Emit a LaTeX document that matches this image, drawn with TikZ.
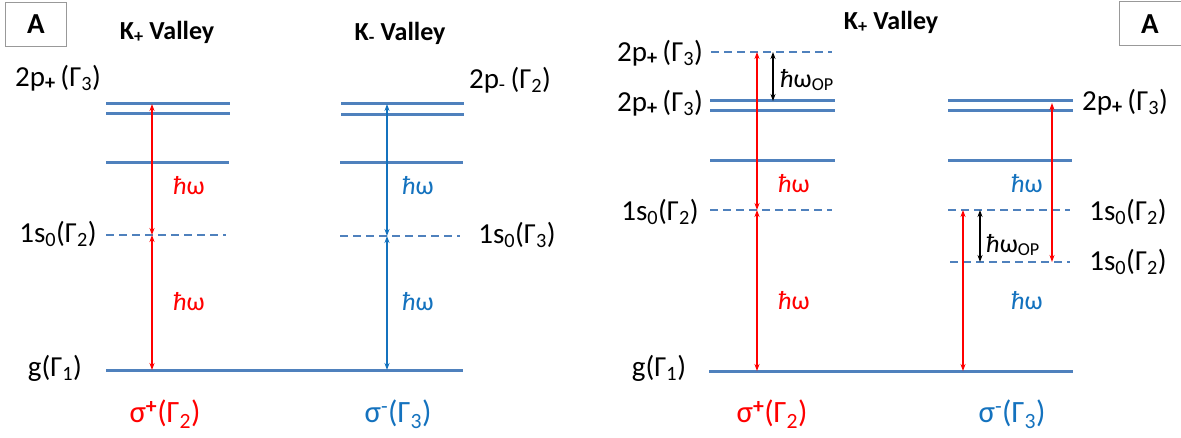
\documentclass[tikz,border=0pt]{standalone}
\usepackage{fontspec}
\setmainfont{Carlito}
\usetikzlibrary{arrows.meta}
\definecolor{lvl}{RGB}{79,129,189}
\definecolor{sred}{RGB}{255,0,0}
\definecolor{sblue}{RGB}{20,114,190}
\newcommand{\hbw}{\textit{ħ}ω}
\begin{document}
\begin{tikzpicture}[x=1pt,y=-1pt,
 level/.style={draw=lvl,line width=3pt},
 dlevel/.style={draw=lvl,line width=2.9pt,dash pattern=on 8pt off 5pt},
 trans/.style={line width=1.4pt,{Stealth[length=7pt,width=5pt]}-{Stealth[length=7pt,width=5pt]}},
 lab/.style={font=\fontsize{29}{32}\selectfont,inner sep=0pt},
 sig/.style={font=\fontsize{31}{34}\selectfont,inner sep=0pt},
 ttl/.style={font=\fontsize{26}{28}\selectfont\bfseries,inner sep=0pt},
 hw/.style={font=\fontsize{26}{28}\selectfont,inner sep=0pt},
 boxA/.style={draw=gray!80,line width=0.8pt,minimum width=61pt,minimum height=44pt,font=\fontsize{29}{30}\selectfont\bfseries,inner sep=0pt}
]
\useasboundingbox (0,0) rectangle (1181,438);

% ---------- left panel ----------
\node[boxA] (boxL) at (36,24) {A};
\node[ttl] (tKp) at (167,32) {K\textsubscript{+} Valley};
\node[ttl] (tKm) at (400,33) {K\textsubscript{-} Valley};

\node[lab] (l2p) at (58,78) {2p\textsubscript{\textbf{+}}\,(Γ\textsubscript{3})};
\node[lab] (r2p) at (510,80) {2p\textsubscript{-}\,(Γ\textsubscript{2})};
\node[lab] (l1s) at (58,234) {1s\textsubscript{0}(Γ\textsubscript{2})};
\node[lab] (r1s) at (517,235) {1s\textsubscript{0}(Γ\textsubscript{3})};
\node[lab] (lg) at (55,368) {g(Γ\textsubscript{1})};
\node[sig,text=sred] (lsp) at (165,414) {σ\textsuperscript{\textbf{+}}(Γ\textsubscript{2})};
\node[sig,text=sblue] (lsm) at (398,414) {σ\textsuperscript{-}(Γ\textsubscript{3})};

\draw[level] (106,104) -- (230,104);
\draw[level] (106,114) -- (230,114);
\draw[level] (106,163) -- (229,163);
\draw[dlevel] (106,235) -- (226,235);
\draw[level] (106,370) -- (463,370);
\draw[level] (341,104) -- (464,104);
\draw[level] (341,115) -- (464,115);
\draw[level] (340,163) -- (463,163);
\draw[dlevel] (340,236) -- (460,236);

\coordinate (a1) at (152,370);
\coordinate (a2) at (152,235);
\coordinate (a3) at (152,104);
\coordinate (b1) at (387,370);
\coordinate (b2) at (387,236);
\coordinate (b3) at (387,104);
\draw[trans,sred] (a1) -- (a2);
\draw[trans,sred] (a2) -- (a3);
\draw[trans,sblue] (b1) -- (b2);
\draw[trans,sblue] (b2) -- (b3);

\node[hw,text=sred] (hwa1) at (189,186) {\hbw};
\node[hw,text=sred] (hwa2) at (189,302) {\hbw};
\node[hw,text=sblue] (hwb1) at (418,186) {\hbw};
\node[hw,text=sblue] (hwb2) at (418,302) {\hbw};

% ---------- right panel ----------
\node[boxA,minimum width=70pt] (boxR) at (1154,23) {};
\node[font=\fontsize{29}{30}\selectfont\bfseries,inner sep=0pt] (AR) at (1150,24) {A};
\node[ttl] (tKp2) at (891,22) {K\textsubscript{+} Valley};

\node[lab] (m2pa) at (660,53) {2p\textsubscript{\textbf{+}}\,(Γ\textsubscript{3})};
\node[lab] (m2pb) at (660,103) {2p\textsubscript{\textbf{+}}\,(Γ\textsubscript{3})};
\node[lab] (m1s) at (660,212) {1s\textsubscript{0}(Γ\textsubscript{2})};
\node[lab] (mg) at (659,368) {g(Γ\textsubscript{1})};
\node[lab] (n2p) at (1125,102) {2p\textsubscript{\textbf{+}}\,(Γ\textsubscript{3})};
\node[lab] (n1sa) at (1128,212) {1s\textsubscript{0}(Γ\textsubscript{2})};
\node[lab] (n1sb) at (1128,262) {1s\textsubscript{0}(Γ\textsubscript{2})};
\node[sig,text=sred] (msp) at (772,414) {σ\textsuperscript{\textbf{+}}(Γ\textsubscript{2})};
\node[sig,text=sblue] (msm) at (1012,414) {σ\textsuperscript{-}(Γ\textsubscript{3})};

\draw[dlevel] (711,52) -- (832,52);
\draw[level] (710,101) -- (835,101);
\draw[level] (710,111) -- (835,111);
\draw[level] (710,161) -- (835,161);
\draw[dlevel] (710,210) -- (832,210);
\draw[level] (709,371) -- (1073,371);
\draw[level] (948,101) -- (1073,101);
\draw[level] (948,111) -- (1073,111);
\draw[level] (948,161) -- (1072,161);
\draw[dlevel] (948,210) -- (1070,210);
\draw[dlevel] (950,262) -- (1070,262);

\coordinate (c1) at (757,371);
\coordinate (c2) at (757,210);
\coordinate (c3) at (757,52);
\coordinate (o1) at (773,52);
\coordinate (o2) at (773,101);
\coordinate (d1) at (1052,103);
\coordinate (d2) at (1052,262);
\coordinate (e1) at (963,371);
\coordinate (e2) at (963,210);
\coordinate (p1) at (980,210);
\coordinate (p2) at (980,262);
\draw[trans,sred] (c1) -- (c2);
\draw[trans,sred] (c2) -- (c3);
\draw[trans,black] (o1) -- (o2);
\draw[trans,sred] (d1) -- (d2);
\draw[trans,sred] (e1) -- (e2);
\draw[trans,black] (p1) -- (p2);

\node[hw] (op1) at (807,80) {\hbw\textsubscript{OP}};
\node[hw] (op2) at (1013,245) {\hbw\textsubscript{OP}};
\node[hw,text=sred] (hwc1) at (794,184) {\hbw};
\node[hw,text=sred] (hwc2) at (794,301) {\hbw};
\node[hw,text=sblue] (hwd1) at (1027,184) {\hbw};
\node[hw,text=sblue] (hwd2) at (1027,301) {\hbw};
\end{tikzpicture}
\end{document}
